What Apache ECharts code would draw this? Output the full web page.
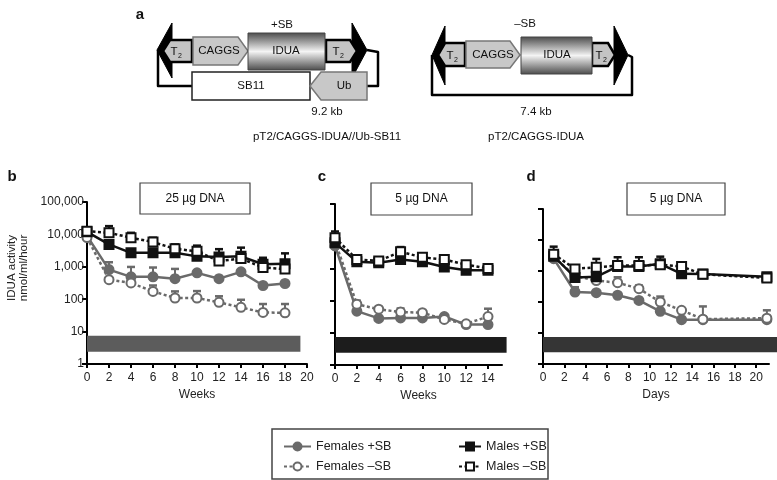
<!DOCTYPE html>
<html><head><meta charset="utf-8">
<script src="https://cdn.jsdelivr.net/npm/echarts@6/dist/echarts.min.js"></script>
<style>html,body{margin:0;padding:0;background:#fff}#c{width:777px;height:480px}</style>
</head><body><div id="c"></div>
<script>
// ---------- data ----------
const weeksB=[0,2,4,6,8,10,12,14,16,18];
const femPlusB=[9000,820,490,490,430,650,430,700,265,305];
const femMinusB=[8000,400,317,174,109,109,80,56,39,38];
const malePlusB=[12000,4900,2700,2700,2700,2100,2000,2100,1200,1250];
const maleMinusB=[12600,11200,7900,5800,3600,3000,1500,1800,950,850];
const femPlusErrB=[null,1380,990,950,860,null,null,null,null,null];
const femMinusErrB=[null,null,null,265,174,178,123,96,71,71];
const malePlusErrB=[null,null,null,null,null,null,3500,3900,1900,2600];
const maleMinusErrB=[14000,18000,11200,7900,4900,4500,null,null,null,null];

const weeksC=[0,2,4,6,8,10,12,14];
const femPlusC=[5000,47,28,29,29,32,18,18];
const femMinusC=[7000,77,54,44,42,26,19,32];
const malePlusC=[6300,1600,1500,1900,1600,1100,870,870];
const maleMinusC=[9000,1900,1700,3300,2200,1900,1300,1000];
const femMinusErrC=[null,100,null,57,null,null,null,56];
const maleMinusErrC=[14000,null,null,4600,null,null,null,null];

const daysD=[1,3,5,7,9,11,13,15,21];
const femPlusD=[2500,210,200,165,112,50,27,27,27];
const femMinusD=[2800,700,490,420,270,100,54,28,30];
const malePlusD=[3000,620,650,1400,1400,1700,810,800,650];
const maleMinusD=[3500,1170,1320,1500,1500,1600,1400,780,600];
const femPlusErrD=[null,300,null,null,null,null,null,72,54];
const femMinusErrD=[null,null,null,630,340,150,null,null,null];
const maleMinusErrD=[6100,null,2450,2780,2780,2900,null,null,null];

// background band [xStart, xEnd, yLow, yHigh]
const bandB=[0,19.4,2.4,7.4];
const bandC=[0,15.7,2.4,7.4];
const bandD=[0,22,2.4,7.4];

const xTicksB=[0,2,4,6,8,10,12,14,16,18,20];
const xTicksC=[0,2,4,6,8,10,12,14];
const xTicksD=[0,2,4,6,8,10,12,14,16,18,20];

const panelTitles=['25 µg DNA','5 µg DNA','5 µg DNA'];
const names=['Females +SB','Females –SB','Males +SB','Males –SB'];

// ---------- styles ----------
const FF='"Liberation Sans", Arial, sans-serif';
const GRAY='#6a6a6a', BLK='#111';
const ST={
 'Females +SB':{color:GRAY,dash:'solid',symbol:'circle',fill:GRAY},
 'Females –SB':{color:GRAY,dash:[3,2.5],symbol:'circle',fill:'#fff'},
 'Males +SB':{color:BLK,dash:'solid',symbol:'rect',fill:BLK},
 'Males –SB':{color:BLK,dash:[3,2.5],symbol:'rect',fill:'#fff'}
};

const grids=[
 {left:87,top:202,width:220,height:162},
 {left:335,top:204,width:167,height:161},
 {left:543,top:209,width:226,height:155}
];
const xMax=[20,15.28,21.2];
const xTicks=[xTicksB,xTicksC,xTicksD];
const xNames=['Weeks','Weeks','Days'];
const bandColors=['#5c5c5c','#1c1c1c','#353535'];

const panels=[
 {xs:weeksB,vals:[femPlusB,femMinusB,malePlusB,maleMinusB],errs:[femPlusErrB,femMinusErrB,malePlusErrB,maleMinusErrB],band:bandB},
 {xs:weeksC,vals:[femPlusC,femMinusC,malePlusC,maleMinusC],errs:[null,femMinusErrC,null,maleMinusErrC],band:bandC},
 {xs:daysD,vals:[femPlusD,femMinusD,malePlusD,maleMinusD],errs:[femPlusErrD,femMinusErrD,null,maleMinusErrD],band:bandD}
];

const xAxes=[],yAxes=[],series=[];
grids.forEach((g,i)=>{
  xAxes.push({type:'value',gridIndex:i,min:0,max:xMax[i],interval:2,
    name:xNames[i],nameLocation:'middle',nameGap:25,
    nameTextStyle:{fontFamily:FF,fontSize:12,color:'#222'},
    axisLine:{lineStyle:{color:'#000',width:2}},
    axisTick:{length:4,lineStyle:{color:'#000',width:2},customValues:xTicks[i]},
    axisLabel:{fontFamily:FF,fontSize:12,color:'#222',margin:8,customValues:xTicks[i]},
    splitLine:{show:false}});
  yAxes.push({type:'log',logBase:10,gridIndex:i,min:1,max:100000,
    axisLine:{show:true,lineStyle:{color:'#000',width:2}},
    axisTick:{show:true,length:5,lineStyle:{color:'#000',width:2}},
    axisLabel:{show:i===0,fontFamily:FF,fontSize:12,color:'#222',margin:3,
      formatter:v=>Number(v).toLocaleString('en-US')},
    minorTick:{show:false},splitLine:{show:false}});
  const p=panels[i];
  series.push({type:'custom',xAxisIndex:i,yAxisIndex:i,z:1,silent:true,
    data:[p.band],
    renderItem:(params,api)=>{
      const a=api.coord([api.value(0),api.value(3)]);
      const b=api.coord([api.value(1),api.value(2)]);
      return {type:'rect',shape:{x:a[0],y:a[1],width:b[0]-a[0],height:b[1]-a[1]},style:{fill:bandColors[i]}};
    }});
  names.forEach((nm,k)=>{
    const st=ST[nm];
    const err=p.errs[k];
    if(err){
      const d=[];
      p.xs.forEach((x,j)=>{ if(err[j]!=null) d.push([x,p.vals[k][j],err[j]]); });
      series.push({type:'custom',xAxisIndex:i,yAxisIndex:i,z:2+k,silent:true,data:d,
        renderItem:(params,api)=>{
          const a=api.coord([api.value(0),api.value(1)]);
          const b=api.coord([api.value(0),api.value(2)]);
          return {type:'group',children:[
            {type:'line',shape:{x1:a[0],y1:a[1],x2:b[0],y2:b[1]},style:{stroke:st.color,lineWidth:2}},
            {type:'line',shape:{x1:b[0]-4,y1:b[1],x2:b[0]+4,y2:b[1]},style:{stroke:st.color,lineWidth:2.5}}
          ]};
        }});
    }
    series.push({type:'line',name:nm,xAxisIndex:i,yAxisIndex:i,z:3+k,
      data:p.xs.map((x,j)=>[x,p.vals[k][j]]),
      symbol:st.symbol,symbolSize:9,showAllSymbol:true,
      lineStyle:{color:st.color,width:2.5,type:st.dash},
      itemStyle:{color:st.fill,borderColor:st.color,borderWidth:2},
      emphasis:{disabled:true}});
  });
});

// ---------- diagram (panel a) and annotations ----------
const G=[];
const txt=(x,y,t,o={})=>G.push({type:'text',x,y,style:Object.assign({text:t,fontFamily:FF,fontSize:11.5,fill:'#111',align:'center',verticalAlign:'middle'},o),z:20});
const poly=(pts,fill,stroke,lw)=>G.push({type:'polygon',shape:{points:pts},style:{fill,stroke,lineWidth:lw||0},z:10});
const pline=(pts,lw)=>G.push({type:'polyline',shape:{points:pts},style:{fill:null,stroke:'#000',lineWidth:lw||2.5,lineJoin:'round'},z:9});
const idua=(x,y,w,h)=>G.push({type:'rect',shape:{x,y,width:w,height:h},z:11,
  style:{stroke:'#444',lineWidth:1,fill:{type:'linear',x:0,y:0,x2:0,y2:1,colorStops:[{offset:0,color:'#4a4a4a'},{offset:0.5,color:'#f4f4f4'},{offset:1,color:'#4a4a4a'}]}}});
const t2=(x,y)=>{txt(x-2,y,'T');txt(x+4,y+4,'2',{fontSize:7});};

txt(140,15,'a',{fontSize:15,fontWeight:'bold'});
// left construct
pline([[158,50],[158,86],[192,86]]);
pline([[367,50],[378,52],[378,86],[367,86]]);
poly([[157,50],[172,23],[172,78]],'#000','#000',1);
poly([[163,51],[170,40],[192,40],[192,62],[170,62]],'#c4c4c4','#000',2.5);
poly([[193,37],[238,37],[248,51],[238,65],[193,65]],'#c8c8c8','#777',1.5);
idua(248,33,77,37);
poly([[367,50],[352,23],[352,78]],'#000','#000',1);
poly([[326,40],[350,40],[357,51],[350,62],[326,62]],'#c4c4c4','#000',2.5);
G.push({type:'rect',shape:{x:192,y:72,width:118,height:28},style:{fill:'#fff',stroke:'#222',lineWidth:1.5},z:10});
poly([[310,86],[321,72],[367,72],[367,100],[321,100]],'#c8c8c8','#777',1.5);
t2(176,52); txt(219,51,'CAGGS'); txt(286,51,'IDUA'); t2(338,52);
txt(251,86,'SB11'); txt(344,86,'Ub');
txt(282,25,'+SB'); txt(327,112,'9.2 kb'); txt(327,137,'pT2/CAGGS-IDUA//Ub-SB11');
// right construct
pline([[432,55],[432,95],[632,95],[632,57],[628,55]]);
poly([[432,55],[445,26],[445,85]],'#000','#000',1);
poly([[438,55],[445,43],[465,43],[465,66],[445,66]],'#c4c4c4','#000',2.5);
poly([[466,41],[510,41],[520,55],[510,68],[466,68]],'#c8c8c8','#777',1.5);
idua(521,37,71,37);
poly([[628,55],[614,26],[614,85]],'#000','#000',1);
poly([[592,43],[608,43],[615,55],[608,66],[592,66]],'#c4c4c4','#000',2.5);
t2(452,56); txt(493,55,'CAGGS'); txt(557,55,'IDUA'); t2(601,56);
txt(525,24,'–SB'); txt(536,112,'7.4 kb'); txt(536,137,'pT2/CAGGS-IDUA');

// panel letters
txt(12,177,'b',{fontSize:15,fontWeight:'bold'});
txt(322,177,'c',{fontSize:15,fontWeight:'bold'});
txt(531,177,'d',{fontSize:15,fontWeight:'bold'});
// title boxes
[[140,183,110,31],[371,183,101,32],[627,183,98,32]].forEach((b,i)=>{
  G.push({type:'rect',shape:{x:b[0],y:b[1],width:b[2],height:b[3]},style:{fill:'#fff',stroke:'#444',lineWidth:1.2},z:10});
  txt(b[0]+b[2]/2,b[1]+b[3]/2,panelTitles[i],{fontSize:12});
});
// y axis title
G.push({type:'text',x:18,y:268,rotation:Math.PI/2,z:20,style:{text:'IDUA activity\nnmol/ml/hour',fontFamily:FF,fontSize:11.5,fill:'#222',align:'center',verticalAlign:'middle',lineHeight:12}});
// legend box
G.push({type:'rect',shape:{x:272,y:429,width:276,height:50},style:{fill:'none',stroke:'#444',lineWidth:1.5},z:10});

const chart=echarts.init(document.getElementById('c'));
chart.setOption({
  animation:false,
  grid:grids,
  xAxis:xAxes,
  yAxis:yAxes,
  legend:[
    {data:['Females +SB','Females –SB'],orient:'vertical',left:278,top:435,itemGap:7,itemWidth:27,itemHeight:10,selectedMode:false,
     textStyle:{fontFamily:FF,fontSize:12.5,color:'#222'}},
    {data:['Males +SB','Males –SB'],orient:'vertical',left:453,top:435,itemGap:7,itemWidth:22,itemHeight:10,selectedMode:false,
     textStyle:{fontFamily:FF,fontSize:12.5,color:'#222'}}
  ],
  graphic:G,
  series
});
</script></body></html>
